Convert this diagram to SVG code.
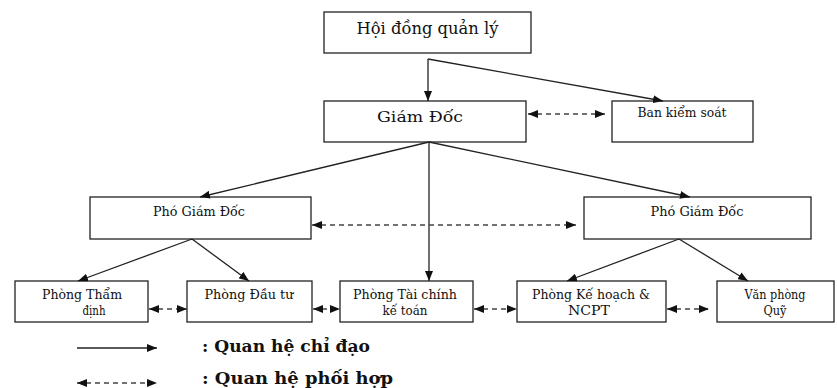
<svg xmlns="http://www.w3.org/2000/svg" width="837" height="388" viewBox="0 0 837 388">
<style>
  .box { fill: #ffffff; stroke: #222222; stroke-width: 1.3; }
  .t { fill: #111111; text-anchor: middle; font-family: "DejaVu Serif", "Liberation Serif", serif; }
  .solid { fill: none; stroke: #222222; stroke-width: 1.3; }
  .dash { fill: none; stroke: #444444; stroke-width: 1.3; stroke-dasharray: 5 4; }
  .leg { fill: #111111; font-weight: bold; font-size: 17px; font-family: "DejaVu Serif", "Liberation Serif", serif; }
</style>
<defs>
  <marker id="ah" viewBox="0 0 10 8" refX="10" refY="4" markerWidth="10" markerHeight="8" markerUnits="userSpaceOnUse" orient="auto">
    <path d="M0,0 L10,4 L0,8 Z" fill="#111111"/>
  </marker>
  <marker id="ahs" viewBox="0 0 10 8" refX="0" refY="4" markerWidth="10" markerHeight="8" markerUnits="userSpaceOnUse" orient="auto">
    <path d="M10,0 L0,4 L10,8 Z" fill="#111111"/>
  </marker>
</defs>
<rect x="0" y="0" width="837" height="388" fill="#ffffff"/>

<g id="hoi-dong">
  <rect class="box" x="324" y="12" width="207" height="41"/>
  <text class="t" x="427.5" y="34" font-size="16" textLength="142" lengthAdjust="spacingAndGlyphs">Hội đồng quản lý</text>
</g>
<g id="giam-doc">
  <rect class="box" x="324" y="101" width="202" height="41"/>
  <text class="t" x="420" y="122" font-size="15" textLength="86" lengthAdjust="spacingAndGlyphs">Giám Đốc</text>
</g>
<g id="ban-kiem-soat">
  <rect class="box" x="612" y="101" width="141" height="41"/>
  <text class="t" x="682" y="117" font-size="12.5" textLength="89" lengthAdjust="spacingAndGlyphs">Ban kiểm soát</text>
</g>
<g id="pho-gd-trai">
  <rect class="box" x="90" y="197" width="221" height="42"/>
  <text class="t" x="199" y="216" font-size="12.5" textLength="92" lengthAdjust="spacingAndGlyphs">Phó Giám Đốc</text>
</g>
<g id="pho-gd-phai">
  <rect class="box" x="584" y="197" width="227" height="42"/>
  <text class="t" x="697" y="216" font-size="12.5" textLength="93" lengthAdjust="spacingAndGlyphs">Phó Giám Đốc</text>
</g>
<g id="phong-tham-dinh">
  <rect class="box" x="15" y="281" width="133" height="41"/>
  <text class="t" x="82" y="299" font-size="12.5" textLength="80" lengthAdjust="spacingAndGlyphs">Phòng Thẩm</text>
  <text class="t" x="94" y="315" font-size="12.5" textLength="23" lengthAdjust="spacingAndGlyphs">định</text>
</g>
<g id="phong-dau-tu">
  <rect class="box" x="187" y="281" width="125" height="41"/>
  <text class="t" x="249" y="299" font-size="12.5" textLength="89" lengthAdjust="spacingAndGlyphs">Phòng Đầu tư</text>
</g>
<g id="phong-tai-chinh">
  <rect class="box" x="340" y="281" width="133" height="41"/>
  <text class="t" x="405" y="299" font-size="12.5" textLength="104" lengthAdjust="spacingAndGlyphs">Phòng Tài chính</text>
  <text class="t" x="405" y="315" font-size="12.5" textLength="45" lengthAdjust="spacingAndGlyphs">kế toán</text>
</g>
<g id="phong-ke-hoach">
  <rect class="box" x="517" y="281" width="149" height="41"/>
  <text class="t" x="591" y="299" font-size="12.5" textLength="118" lengthAdjust="spacingAndGlyphs">Phòng Kế hoạch &amp;</text>
  <text class="t" x="589" y="315" font-size="12.5" textLength="42" lengthAdjust="spacingAndGlyphs">NCPT</text>
</g>
<g id="van-phong-quy">
  <rect class="box" x="717" y="281" width="117" height="41"/>
  <text class="t" x="775" y="299" font-size="12.5" textLength="61" lengthAdjust="spacingAndGlyphs">Văn phòng</text>
  <text class="t" x="775" y="315" font-size="12.5" textLength="23" lengthAdjust="spacingAndGlyphs">Quỹ</text>
</g>

<g id="connectors">
  <path class="solid" d="M428,59 V101" marker-end="url(#ah)"/>
  <path class="solid" d="M428,59 L663,101" marker-end="url(#ah)"/>
  <path class="solid" d="M429,142 L200,197" marker-end="url(#ah)"/>
  <path class="solid" d="M429,142 L690,197" marker-end="url(#ah)"/>
  <path class="solid" d="M429,142 V281" marker-end="url(#ah)"/>
  <path class="solid" d="M192,239 L78,281" marker-end="url(#ah)"/>
  <path class="solid" d="M192,239 L249,281" marker-end="url(#ah)"/>
  <path class="solid" d="M679,239 L567,281" marker-end="url(#ah)"/>
  <path class="solid" d="M679,239 L748,281" marker-end="url(#ah)"/>

  <path class="dash" d="M528,114 H605" marker-start="url(#ahs)" marker-end="url(#ah)"/>
  <path class="dash" d="M312,225 H576" marker-start="url(#ahs)" marker-end="url(#ah)"/>
  <path class="dash" d="M149,309 H187" marker-start="url(#ahs)" marker-end="url(#ah)"/>
  <path class="dash" d="M313,309 H340" marker-start="url(#ahs)" marker-end="url(#ah)"/>
  <path class="dash" d="M474,309 H517" marker-start="url(#ahs)" marker-end="url(#ah)"/>
  <path class="dash" d="M667,309 H709" marker-start="url(#ahs)" marker-end="url(#ah)"/>
</g>

<g id="legend">
  <path class="solid" d="M77,348 H157" marker-end="url(#ah)"/>
  <path class="dash" d="M77,383 H157" marker-start="url(#ahs)" marker-end="url(#ah)"/>
  <text class="leg" x="202" y="352" textLength="168" lengthAdjust="spacingAndGlyphs">: Quan hệ chỉ đạo</text>
  <text class="leg" x="202" y="384" textLength="191" lengthAdjust="spacingAndGlyphs">: Quan hệ phối hợp</text>
</g>
</svg>
